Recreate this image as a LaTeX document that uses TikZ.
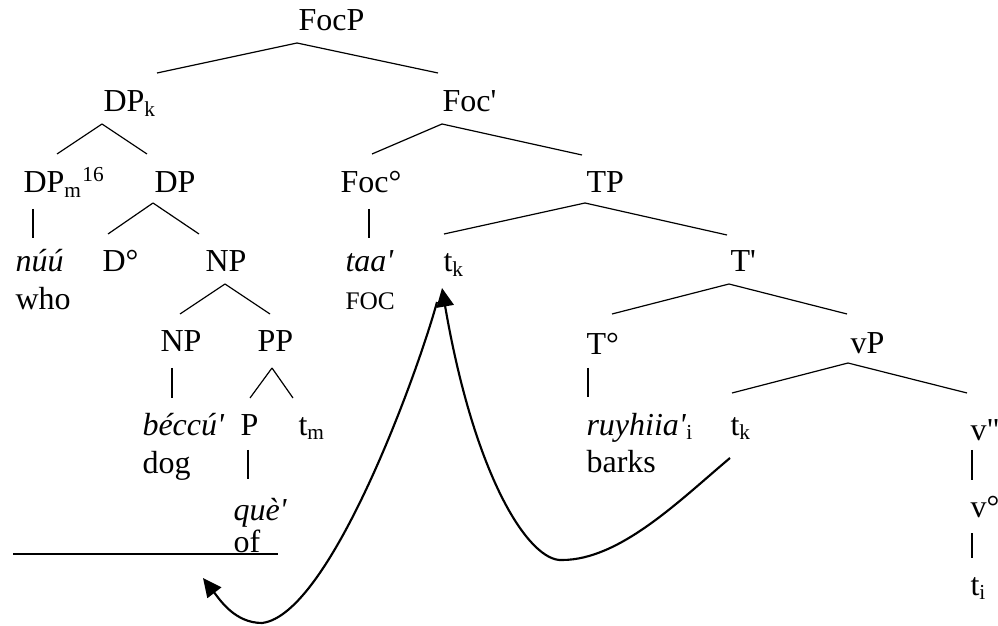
\documentclass[tikz,border=0pt]{standalone}
\usepackage{fontspec}
\setmainfont{Liberation Serif}
\usetikzlibrary{arrows.meta,calc}
\tikzset{
  lbl/.style={anchor=base west, inner sep=0pt, font=\fontsize{12}{14}\selectfont},
  small/.style={lbl, font=\fontsize{9.5}{11}\selectfont},
  branch/.style={line width=0.45pt},
  movearrow/.style={line width=0.8pt, -{Triangle[length=7pt,width=6.5pt]}},
}
\newcommand{\apos}{\textquotesingle}
\begin{document}
\begin{tikzpicture}[x=0.375pt, y=-0.375pt]
\useasboundingbox (0,0) rectangle (998,626);
% Labels (base west at pixel positions)
\node[lbl] (FocP) at (298,31) {FocP};
\node[lbl] (DPk) at (103,112) {DP\textsubscript{k}};
\node[lbl] (Focbar) at (442,112) {Foc\apos};
\node[lbl] (DPm) at (23,193) {DP\textsubscript{m}\textsuperscript{16}};
\node[lbl] (DP) at (154,193) {DP};
\node[lbl] (Foc0) at (340,193) {Foc°};
\node[lbl] (TP) at (586,193) {TP};
\node[lbl] (nuu) at (15,272) {\textit{núú}};
\node[lbl] (D0) at (102,272) {D°};
\node[lbl] (NPa) at (205,272) {NP};
\node[lbl] (taa) at (345,272) {\textit{taa\apos}};
\node[lbl] (tkA) at (443,272) {t\textsubscript{k}};
\node[lbl] (Tbar) at (730,272) {T\apos};
\node[lbl] (who) at (15,310) {who};
\node[small] (foc) at (345,310) {FOC};
\node[lbl] (NPb) at (160,352) {NP};
\node[lbl] (PP) at (257,352) {PP};
\node[lbl] (T0) at (586,355) {T°};
\node[lbl] (vP) at (850,354) {vP};
\node[lbl] (beccu) at (142,435) {\textit{béccú\apos}};
\node[lbl] (P) at (240,435) {P};
\node[lbl] (tm) at (298,435) {t\textsubscript{m}};
\node[lbl] (ruyhiia) at (586,435) {\textit{ruyhiia\apos}\textsubscript{i}};
\node[lbl] (tkB) at (730,435) {t\textsubscript{k}};
\node[lbl] (vbar) at (970,440) {v\textquotedbl};
\node[lbl] (dog) at (142,473) {dog};
\node[lbl] (barks) at (586,472) {barks};
\node[lbl] (que) at (233,520) {\textit{què\apos}};
\node[lbl] (v0) at (970,517) {v°};
\node[lbl] (of) at (233,552) {of};
\node[lbl] (ti) at (970,595) {t\textsubscript{i}};
\coordinate (gap) at (203,578);
% Branches
\begin{scope}[branch]
  \draw ($(FocP.base west)+(-1,12)$) -- ($(DPk.base west)+(54,-39)$);
  \draw ($(FocP.base west)+(-1,12)$) -- ($(Focbar.base west)+(-4,-39)$);
  \draw ($(DPk.base west)+(-1,12)$) -- ($(DPm.base west)+(34,-39)$);
  \draw ($(DPk.base west)+(-1,12)$) -- ($(DP.base west)+(-7,-39)$);
  \draw ($(Focbar.base west)+(0,12)$) -- ($(Foc0.base west)+(32,-39)$);
  \draw ($(Focbar.base west)+(0,12)$) -- ($(TP.base west)+(-4,-38)$);
  \draw ($(DP.base west)+(-1,10)$) -- ($(D0.base west)+(6,-38)$);
  \draw ($(DP.base west)+(-1,10)$) -- ($(NPa.base west)+(-6,-38)$);
  \draw ($(TP.base west)+(-1,10)$) -- ($(tkA.base west)+(1,-38)$);
  \draw ($(TP.base west)+(-1,10)$) -- ($(Tbar.base west)+(-3,-37)$);
  \draw ($(NPa.base west)+(20,12)$) -- ($(NPb.base west)+(20,-38)$);
  \draw ($(NPa.base west)+(20,12)$) -- ($(PP.base west)+(13,-38)$);
  \draw ($(Tbar.base west)+(-1,12)$) -- ($(T0.base west)+(26,-41)$);
  \draw ($(Tbar.base west)+(-1,12)$) -- ($(vP.base west)+(-3,-40)$);
  \draw ($(PP.base west)+(15,16)$) -- ($(P.base west)+(10,-37)$);
  \draw ($(PP.base west)+(15,16)$) -- ($(tm.base west)+(-5,-37)$);
  \draw ($(vP.base west)+(-2,9)$) -- ($(tkB.base west)+(2,-42)$);
  \draw ($(vP.base west)+(-2,9)$) -- ($(vbar.base west)+(-3,-47)$);
  % unary bars
  \draw ($(DPm.base west)+(10,16)$) -- ($(nuu.base west)+(18,-34)$);
  \draw ($(Foc0.base west)+(29,16)$) -- ($(taa.base west)+(24,-34)$);
  \draw ($(NPb.base west)+(12,16)$) -- ($(beccu.base west)+(30,-37)$);
  \draw ($(T0.base west)+(2,13)$) -- ($(ruyhiia.base west)+(2,-38)$);
  \draw ($(P.base west)+(8,15)$) -- ($(que.base west)+(15,-41)$);
  \draw ($(vbar.base west)+(2,10)$) -- ($(v0.base west)+(2,-37)$);
  \draw ($(v0.base west)+(2,16)$) -- ($(ti.base west)+(2,-37)$);
\end{scope}
% Blank line
\draw[line width=0.8pt] (13,554) -- (278,554);
% Movement arrows
\draw[movearrow] ($(tkB.base west)+(0,23)$) .. controls (680,500) and (620,560) .. (562,560)
  .. controls (530,562) and (475,480) .. ($(tkA.base west)+(-1,16)$);
\draw[movearrow] ($(tkA.base west)+(-6,30)$) .. controls (418,372) and (330,615) .. (262,623)
  .. controls (235,623) and (220,600) .. (gap);
\end{tikzpicture}
\end{document}
